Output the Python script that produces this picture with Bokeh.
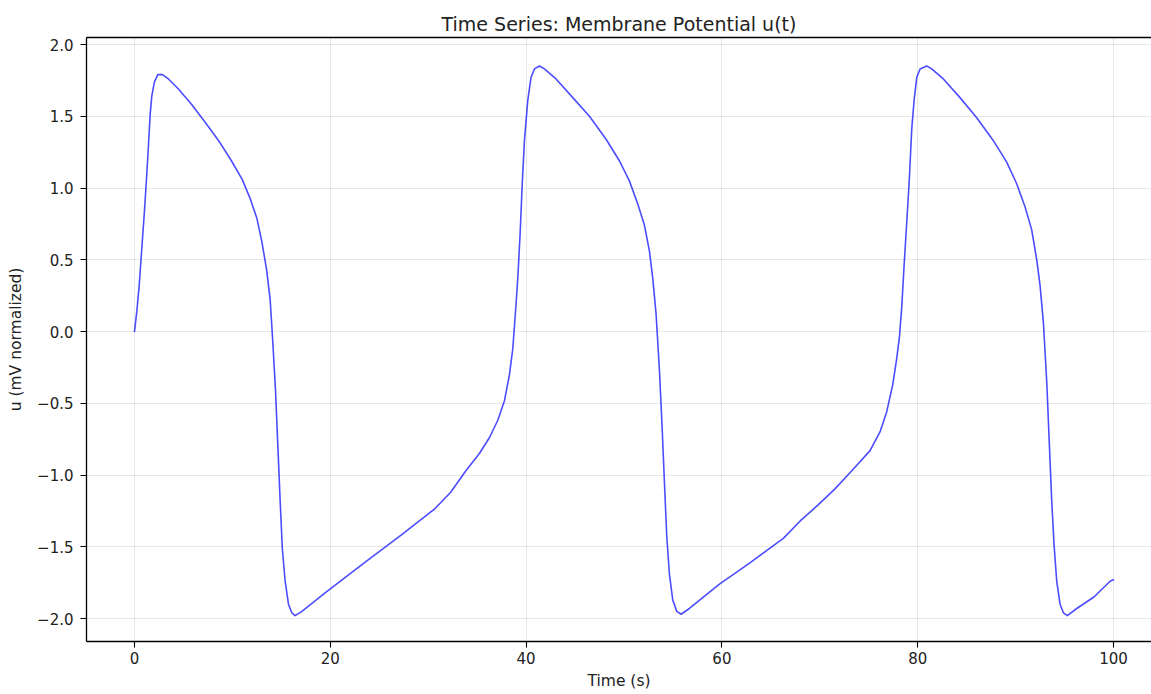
from bokeh.plotting import figure
from bokeh.models import Range1d, LinearAxis, FixedTicker, CustomJSTickFormatter
from bokeh.embed import file_html
from bokeh.resources import INLINE

title_text = "Time Series: Membrane Potential u(t)"
x_label = "Time (s)"
y_label = "u (mV normalized)"
x_ticks = [0, 20, 40, 60, 80, 100]
y_ticks = [-2.0, -1.5, -1.0, -0.5, 0.0, 0.5, 1.0, 1.5, 2.0]

time_s = [0, 0.24, 0.48, 0.75, 1.02, 1.26, 1.43, 1.6, 1.77, 2.04,
          2.38, 2.86, 3.47, 4.49, 5.86, 7.2, 8.6, 9.9, 11.0, 11.8,
          12.5, 13.0, 13.5, 13.86, 14.1, 14.4, 14.64, 14.88, 15.1, 15.39,
          15.73, 16.07, 16.41, 17.1, 19.5, 23.7, 27.2, 30.6, 32.3, 33.85,
          35.23, 36.25, 37.1, 37.8, 38.3, 38.64, 38.9, 39.15, 39.39, 39.6,
          39.83, 40.17, 40.5, 40.85, 41.36, 41.87, 43.06, 44.77, 46.47, 48.17,
          49.53, 50.55, 51.4, 52.09, 52.6, 52.94, 53.28, 53.62, 53.89, 54.13,
          54.37, 54.64, 54.98, 55.39, 55.83, 56.68, 59.75, 62.9, 66.3, 68.0,
          69.8, 71.5, 73.2, 75.13, 76.15, 76.83, 77.45, 77.85, 78.13, 78.37,
          78.6, 78.88, 79.15, 79.39, 79.63, 79.9, 80.24, 80.92, 81.43, 82.62,
          84.32, 86.03, 87.73, 89.09, 90.11, 90.96, 91.64, 92.16, 92.5, 92.84,
          93.18, 93.45, 93.69, 93.93, 94.2, 94.54, 94.88, 95.29, 96.24, 98.0,
          99.65, 100]
u_vals = [0, 0.14, 0.32, 0.58, 0.84, 1.10, 1.30, 1.51, 1.64, 1.74,
          1.79, 1.79, 1.76, 1.69, 1.58, 1.46, 1.33, 1.19, 1.06, 0.93,
          0.79, 0.63, 0.43, 0.22, -0.04, -0.40, -0.79, -1.18, -1.51, -1.74,
          -1.90, -1.96, -1.98, -1.95, -1.82, -1.60, -1.42, -1.24, -1.12, -0.97,
          -0.85, -0.74, -0.62, -0.48, -0.30, -0.12, 0.12, 0.37, 0.68, 1.02,
          1.33, 1.61, 1.77, 1.83, 1.85, 1.83, 1.76, 1.63, 1.50, 1.34,
          1.19, 1.05, 0.89, 0.74, 0.56, 0.37, 0.12, -0.27, -0.66, -1.05,
          -1.43, -1.69, -1.87, -1.95, -1.97, -1.93, -1.76, -1.61, -1.44, -1.32,
          -1.21, -1.10, -0.975, -0.83, -0.70, -0.56, -0.37, -0.19, -0.04, 0.17,
          0.45, 0.76, 1.07, 1.41, 1.61, 1.77, 1.83, 1.85, 1.83, 1.76,
          1.63, 1.49, 1.33, 1.18, 1.03, 0.87, 0.71, 0.50, 0.32, 0.06,
          -0.35, -0.79, -1.18, -1.49, -1.74, -1.90, -1.96, -1.98, -1.93, -1.85,
          -1.74, -1.73]

assert len(time_s) == len(u_vals)

FONT = "DejaVu Sans"
TEXT = "#222222"

p = figure(width=1151, height=694, output_backend="svg", toolbar_location=None,
           x_range=Range1d(-4.90, 103.88), y_range=Range1d(-2.160, 2.049),
           min_border_left=86, min_border_right=0, min_border_top=37, min_border_bottom=53,
           title=title_text)

p.title.text_font = FONT
p.title.text_font_size = "19px"
p.title.text_font_style = "normal"
p.title.align = "center"
p.title.text_color = TEXT
p.title.standoff = 6

p.outline_line_color = None
p.background_fill_color = "white"
p.border_fill_color = "white"

p.line(time_s, u_vals, line_color="blue", line_alpha=0.7, line_width=1.6,
       line_join="round", line_cap="round")

for ax in (p.xaxis[0], p.yaxis[0]):
    ax.axis_line_color = "black"
    ax.axis_line_width = 1.3
    ax.major_tick_line_color = "black"
    ax.major_tick_line_width = 1.1
    ax.major_tick_in = 0
    ax.major_tick_out = 6
    ax.minor_tick_line_color = None
    ax.major_label_text_font = FONT
    ax.major_label_text_font_size = "15px"
    ax.major_label_text_color = TEXT
    ax.axis_label_text_font = FONT
    ax.axis_label_text_font_size = "15.5px"
    ax.axis_label_text_font_style = "normal"
    ax.axis_label_text_color = TEXT

p.xaxis[0].ticker = FixedTicker(ticks=x_ticks)
p.yaxis[0].ticker = FixedTicker(ticks=y_ticks)
p.xaxis[0].formatter = CustomJSTickFormatter(code="return (tick < 0 ? '\u2212' : '') + Math.abs(tick).toFixed(0);")
p.yaxis[0].formatter = CustomJSTickFormatter(code="return (tick < 0 ? '\u2212' : '') + Math.abs(tick).toFixed(1);")
p.xaxis[0].axis_label = x_label
p.yaxis[0].axis_label = y_label
p.xaxis[0].major_label_standoff = 4
p.xaxis[0].axis_label_standoff = 5
p.yaxis[0].major_label_standoff = 7
p.yaxis[0].axis_label_standoff = 9

top_axis = LinearAxis(ticker=FixedTicker(ticks=[]), axis_line_color="black", axis_line_width=1.3,
                      major_label_text_font_size="0px", major_tick_line_color=None,
                      minor_tick_line_color=None)
p.add_layout(top_axis, "above")

p.xgrid[0].ticker = FixedTicker(ticks=x_ticks)
p.ygrid[0].ticker = FixedTicker(ticks=y_ticks)
p.grid.grid_line_color = "#b0b0b0"
p.grid.grid_line_alpha = 0.3
p.grid.grid_line_width = 1

open("out.html", "w").write(file_html(p, INLINE))
